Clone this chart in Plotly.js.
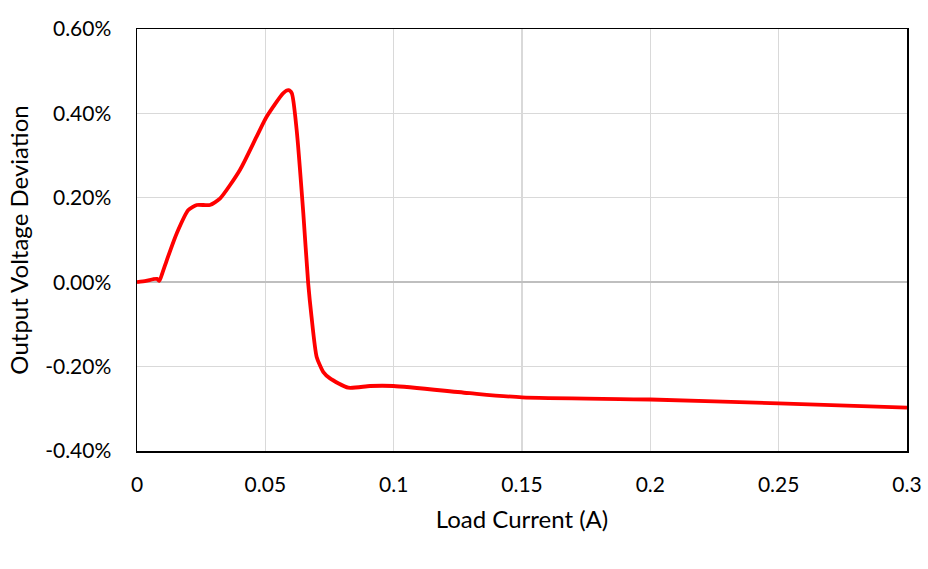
<!DOCTYPE html>
<html>
<head>
<meta charset="utf-8">
<script src="https://cdn.plot.ly/plotly-3.0.1.min.js"></script>
<style>html,body{margin:0;padding:0;background:#fff;}#chart{width:928px;height:569px;}</style>
</head>
<body>
<div id="chart"></div>
<script>
// Load current (A)
const loadCurrent = [0, 0.0035, 0.0062, 0.0078, 0.0087, 0.0098, 0.0116, 0.0155, 0.020, 0.0233, 0.0284, 0.0323, 0.0401, 0.0466, 0.0505, 0.057, 0.059, 0.0603, 0.0622, 0.0648, 0.0667, 0.068, 0.070, 0.0726, 0.0752, 0.0823, 0.0908, 0.0999, 0.1297, 0.15, 0.2, 0.25, 0.3];
// Output voltage deviation (fraction)
const deviation = [0, 0.00003, 0.00007, 0.00008, 0.00003, 0.0002, 0.00052, 0.00116, 0.00171, 0.00183, 0.00183, 0.00198, 0.00266, 0.00345, 0.00392, 0.00448, 0.00455, 0.00448, 0.00361, 0.00163, -0.00003, -0.00082, -0.00177, -0.00213, -0.00228, -0.0025, -0.00246, -0.00246, -0.00263, -0.00273, -0.00278, -0.00287, -0.00297];

const xTicks = [0, 0.05, 0.1, 0.15, 0.2, 0.25, 0.3];
const xTickLabels = ['0', '0.05', '0.1', '0.15', '0.2', '0.25', '0.3'];
const yTicks = [-0.004, -0.002, 0, 0.002, 0.004, 0.006];
const yTickLabels = ['-0.40%', '-0.20%', '0.00%', '0.20%', '0.40%', '0.60%'];

const font = 'Lato, "Open Sans", sans-serif';

Plotly.newPlot('chart', [{
  x: loadCurrent,
  y: deviation,
  type: 'scatter',
  mode: 'lines',
  line: {color: '#ff0000', width: 3.8, shape: 'spline', smoothing: 0.6},
  hoverinfo: 'skip'
}], {
  width: 928, height: 569,
  margin: {l: 137, r: 21, t: 29, b: 118},
  paper_bgcolor: '#fff', plot_bgcolor: '#fff',
  showlegend: false,
  font: {family: font, size: 21, color: '#000'},
  xaxis: {
    range: [0, 0.3],
    tickvals: xTicks, ticktext: xTickLabels,
    showgrid: true, gridcolor: '#d9d9d9', gridwidth: 1.3,
    zeroline: false,
    showline: true, linecolor: '#000', linewidth: 1.5, mirror: true,
    ticks: '', ticklabelstandoff: 14,
    tickfont: {family: font, size: 21, color: '#000'},
    title: {text: 'Load Current (A)', font: {family: font, size: 24, color: '#000'}, standoff: 16}
  },
  yaxis: {
    range: [-0.004, 0.006],
    tickvals: yTicks, ticktext: yTickLabels,
    showgrid: true, gridcolor: '#d9d9d9', gridwidth: 1.3,
    zeroline: true, zerolinecolor: '#bfbfbf', zerolinewidth: 1.5,
    showline: true, linecolor: '#000', linewidth: 1.5, mirror: true,
    ticks: '', ticklabelstandoff: 20,
    tickfont: {family: font, size: 21, color: '#000'},
    title: {text: 'Output Voltage Deviation', font: {family: font, size: 24, color: '#000'}, standoff: 10}
  }
}, {staticPlot: true, displayModeBar: false});
</script>
</body>
</html>
